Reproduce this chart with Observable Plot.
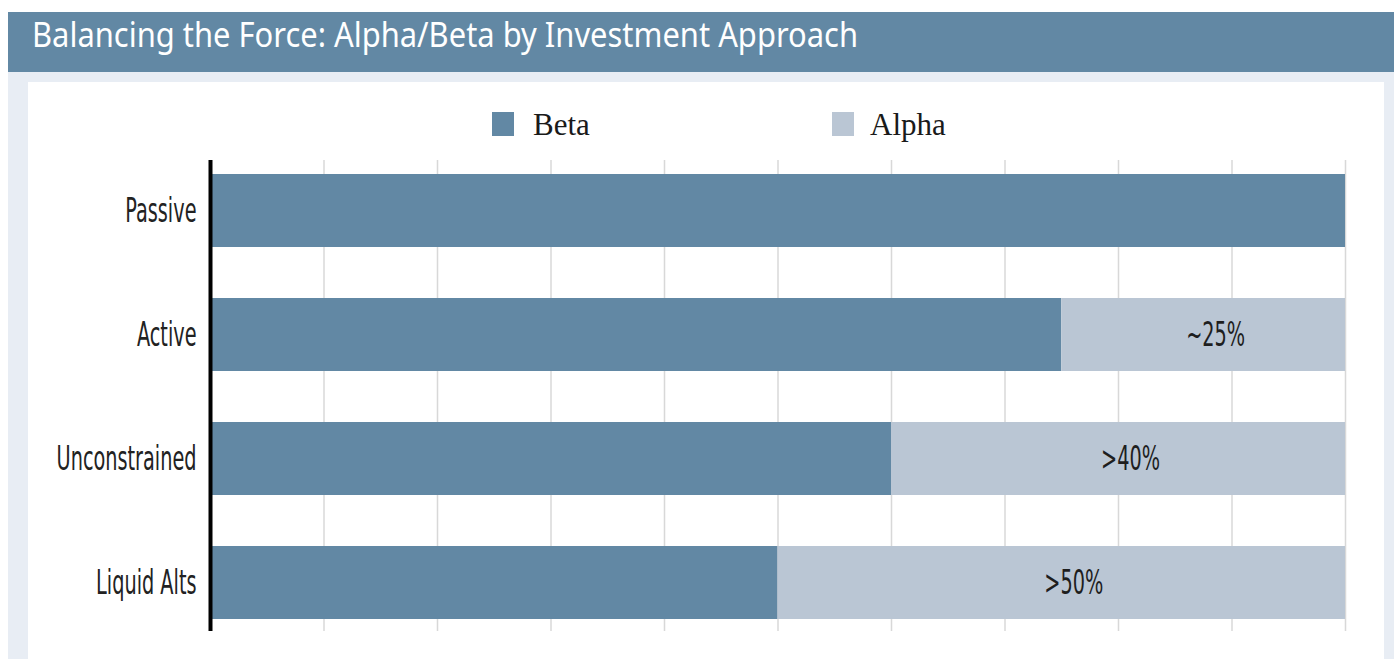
<!DOCTYPE html>
<html>
<head>
<meta charset="utf-8">
<script src="https://cdn.jsdelivr.net/npm/d3@7"></script>
<script src="https://cdn.jsdelivr.net/npm/@observablehq/plot@0.6"></script>
<style>
  html, body { margin: 0; padding: 0; background: #ffffff; width: 1394px; height: 659px; overflow: hidden; }
  .abs { position: absolute; }
  #band { left: 8px; top: 12px; width: 1386px; height: 60px; background: #6288a4; }
  #bg { left: 8px; top: 72px; width: 1386px; height: 587px; background: #e8edf4; }
  #panel { left: 28px; top: 82px; width: 1356px; height: 577px; background: #ffffff; }
  #title { left: 32px; top: 16px; font-family: "Noto Sans", "Open Sans", sans-serif; font-size: 35px; line-height: 1; color: #ffffff; white-space: nowrap; transform-origin: 0 0; }
  .sw { width: 22px; height: 24px; }
  .lg { font-family: "Liberation Serif", "DejaVu Serif", serif; font-size: 31px; line-height: 1; color: #1a1a1a; white-space: nowrap; }
  #chart { left: 28px; top: 150px; }
</style>
</head>
<body>
<div id="band" class="abs"></div>
<div id="bg" class="abs"></div>
<div id="panel" class="abs"></div>
<div id="title" class="abs">Balancing the Force: Alpha/Beta by Investment Approach</div>
<div id="legend"></div>
<div id="chart" class="abs"></div>
<script>
const categories = ["Passive", "Active", "Unconstrained", "Liquid Alts"];
const betaValues = [100, 75, 60, 50];
const alphaValues = [0, 25, 40, 50];
const alphaLabels = ["", "~25%", ">40%", ">50%"];
const seriesNames = ["Beta", "Alpha"];
const seriesColors = ["#6288a4", "#bac6d4"];
const xTicks = [0, 10, 20, 30, 40, 50, 60, 70, 80, 90, 100];

const rows = categories.flatMap((c, i) => [
  {category: c, series: seriesNames[0], value: betaValues[i]},
  {category: c, series: seriesNames[1], value: alphaValues[i]}
]);
const labelRows = categories.map((c, i) => ({
  category: c, x: betaValues[i] + alphaValues[i] / 2, label: alphaLabels[i]
}));

// Legend (HTML, above the SVG)
const legend = document.getElementById("legend");
const legendPos = [{sx: 492, tx: 533}, {sx: 832, tx: 870}];
seriesNames.forEach((name, i) => {
  const sw = document.createElement("div");
  sw.className = "abs sw";
  sw.style.left = legendPos[i].sx + "px";
  sw.style.top = "112px";
  sw.style.background = seriesColors[i];
  legend.appendChild(sw);
  const t = document.createElement("div");
  t.className = "abs lg";
  t.style.left = legendPos[i].tx + "px";
  t.style.top = "109px";
  t.textContent = name;
  legend.appendChild(t);
});

const narrow = "'Liberation Sans Narrow', 'DejaVu Sans Condensed', 'Arial Narrow', sans-serif";

const chart = Plot.plot({
  width: 1356,
  height: 509,
  marginLeft: 182,
  marginRight: 39,
  marginTop: 10,
  marginBottom: 28,
  x: {domain: [0, 100], axis: null},
  y: {domain: categories, paddingInner: 0.4145, paddingOuter: 0.096, align: 0.54, label: null, axis: null},
  color: {domain: seriesNames, range: seriesColors},
  style: {fontFamily: narrow, background: "transparent", color: "#222"},
  marks: [
    Plot.ruleX(xTicks, {stroke: "#d8d8d8", strokeWidth: 1.5}),
    Plot.barX(rows, {x: "value", y: "category", fill: "series"}),
    Plot.text(labelRows, {x: "x", y: "category", text: "label", fontSize: 33, fill: "#1e1e1e", dx: 12}),
    Plot.ruleX([0], {stroke: "#000000", strokeWidth: 4}),
    Plot.axisY({tickSize: 0, tickPadding: 14, fontSize: 33, fill: "#222"})
  ]
});
document.getElementById("chart").appendChild(chart);

// condense texts horizontally to match the condensed face of the original
const texts = Array.from(chart.querySelectorAll("text"));
const ref = texts.find(t => t.textContent === "Unconstrained");
const s = ref ? 140 / ref.getComputedTextLength() : 0.75;
texts.forEach(t => {
  const tr = t.getAttribute("transform") || "";
  t.setAttribute("transform", (tr + ` scale(${s},1)`).trim());
});

// title width
const title = document.getElementById("title");
const tw = title.getBoundingClientRect().width;
title.style.transform = `scaleX(${826 / tw})`;
</script>
</body>
</html>
